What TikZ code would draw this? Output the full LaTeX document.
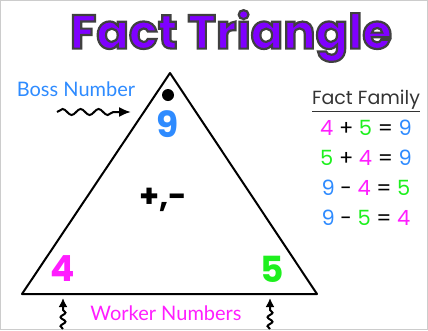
\documentclass[tikz,border=0pt]{standalone}
\usepackage{fontspec}
\setmainfont{Poppins}
\newfontfamily\handfont{Lato}
\usetikzlibrary{decorations.pathmorphing,arrows.meta}
\definecolor{titlepurple}{HTML}{7F00FF}
\definecolor{bossblue}{HTML}{2E8BFF}
\definecolor{workerpink}{HTML}{FF1EFF}
\definecolor{workergreen}{HTML}{1EF01E}
\definecolor{familygray}{HTML}{333333}
\newcommand{\nfour}{\textcolor{workerpink}{4}}
\newcommand{\nfive}{\textcolor{workergreen}{5}}
\newcommand{\nnine}{\textcolor{bossblue}{9}}
% outlined text: fill and stroke the glyphs
\newcommand{\outlined}[1]{\special{pdf:literal q 2 Tr 2.2 w 0.25 0.25 0.25 RG}#1\special{pdf:literal Q}}
\tikzset{
  bignum/.style={font=\fontsize{36}{36}\selectfont\bfseries},
  eqrow/.style={font=\fontsize{21}{21}\selectfont, text=black},
  label/.style={font=\handfont\fontsize{20}{20}\selectfont},
  squiggle/.style={-{Latex[length=12pt,width=10pt]}, line width=2pt,
    decorate, decoration={snake, amplitude=3pt, segment length=18pt, post length=12pt}},
  shortsquiggle/.style={squiggle, -{Latex[length=9pt,width=9pt]},
    decoration={snake, amplitude=2.5pt, segment length=9pt, post length=9pt}},
}
\begin{document}
\begin{tikzpicture}[x=1pt,y=-1pt]
\useasboundingbox (0,0) rectangle (428,330);
\draw[gray!40, line width=0.6pt] (0.3,0.3) rectangle (427.7,329.7);

% title
\node (title) at (231,36) {\fontsize{48}{48}\selectfont\bfseries
  \textcolor{titlepurple}{\outlined{Fact Triangle}}};

% triangle
\draw[line width=2pt, line join=round] (170,73) -- (317,294) -- (22,294) -- cycle;
\fill (168,95) circle (6);
\node[bignum, text=bossblue] (boss) at (168,124) {9};
\node[bignum, text=workerpink] (left) at (63,269) {4};
\node[bignum, text=workergreen] (right) at (272,269) {5};
\node[font=\fontsize{32}{32}\selectfont\bfseries] (ops) at (163,200) {+,-};

% boss
\node[label, text=bossblue] (bosslabel) at (76,89) {Boss Number};
\coordinate (bosstail) at (57,112);
\coordinate (bosshead) at (131,112);
\draw[squiggle] (bosstail) -- (bosshead);

% workers
\node[label, text=workerpink] (workerlabel) at (166,313) {Worker Numbers};
\coordinate (lefttail) at (63,329);
\coordinate (lefthead) at (63,298);
\coordinate (righttail) at (270,329);
\coordinate (righthead) at (270,298);
\draw[shortsquiggle] (lefttail) -- (lefthead);
\draw[shortsquiggle] (righttail) -- (righthead);

% fact family
\node[font=\fontsize{19}{19}\selectfont, text=familygray] (family) at (366,101) {\underline{Fact Family}};
\node[eqrow] (eqa) at (366,128) {\nfour{} + \nfive{} = \nnine};
\node[eqrow] (eqb) at (366,158) {\nfive{} + \nfour{} = \nnine};
\node[eqrow] (eqc) at (366,188) {\nnine{} - \nfour{} = \nfive};
\node[eqrow] (eqd) at (366,218) {\nnine{} - \nfive{} = \nfour};
\end{tikzpicture}
\end{document}
